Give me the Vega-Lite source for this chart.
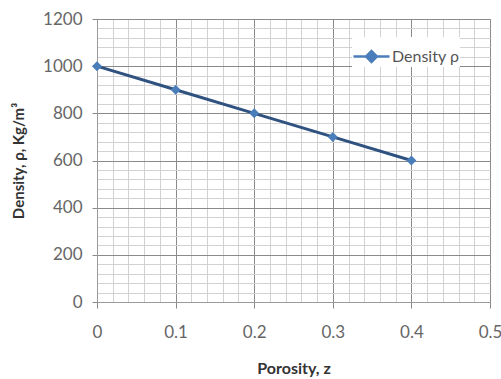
{
  "$schema": "https://vega.github.io/schema/vega-lite/v6.json",
  "width": 393,
  "height": 283,
  "autosize": {"type": "none"},
  "padding": {"left": 97, "top": 19, "right": 11, "bottom": 77},
  "background": "white",
  "config": {
    "view": {"stroke": "#9a9a9a", "strokeWidth": 1},
    "font": "Lato"
  },
  "data": {
    "values": [
      {"z": 0, "rho": 1000, "series": "Density ρ"},
      {"z": 0.1, "rho": 900, "series": "Density ρ"},
      {"z": 0.2, "rho": 800, "series": "Density ρ"},
      {"z": 0.3, "rho": 700, "series": "Density ρ"},
      {"z": 0.4, "rho": 600, "series": "Density ρ"}
    ]
  },
  "layer": [
    {
      "mark": {"type": "line", "strokeWidth": 3, "color": "#2f5280"},
      "encoding": {
        "x": {
          "field": "z", "type": "quantitative",
          "scale": {"domain": [0, 0.5], "nice": false, "zero": false},
          "axis": {
            "values": [0, 0.02, 0.04, 0.06, 0.08, 0.1, 0.12, 0.14, 0.16, 0.18, 0.2, 0.22, 0.24, 0.26, 0.28, 0.3, 0.32, 0.34, 0.36, 0.38, 0.4, 0.42, 0.44, 0.46, 0.48, 0.5],
            "tickCount": 200,
            "labelExpr": "abs(datum.value*10 - round(datum.value*10)) < 0.001 ? format(datum.value, '~g') : ''",
            "labelOverlap": false,
            "title": "Porosity, z",
            "titleFont": "Lato", "titleFontSize": 16, "titleFontWeight": "bold", "titleColor": "#333",
            "titlePadding": 20,
            "labelFont": "Lato", "labelFontSize": 17, "labelColor": "#666",
            "labelPadding": 16,
            "labelFlush": false,
            "domainColor": "#9a9a9a",
            "tickSize": 6,
            "tickColor": {"condition": {"test": "abs(datum.value*10 - round(datum.value*10)) < 0.001", "value": "#888"}, "value": "rgba(0,0,0,0)"},
            "grid": true,
            "gridColor": {"condition": {"test": "abs(datum.value*10 - round(datum.value*10)) < 0.001", "value": "#8a8a8a"}, "value": "#d2d2d2"},
            "gridWidth": 1
          }
        },
        "y": {
          "field": "rho", "type": "quantitative",
          "scale": {"domain": [0, 1200], "nice": false},
          "axis": {
            "values": [0, 40, 80, 120, 160, 200, 240, 280, 320, 360, 400, 440, 480, 520, 560, 600, 640, 680, 720, 760, 800, 840, 880, 920, 960, 1000, 1040, 1080, 1120, 1160, 1200],
            "tickCount": 200,
            "labelExpr": "datum.value % 200 === 0 ? datum.label : ''",
            "labelOverlap": false,
            "format": "d",
            "title": "Density, ρ, Kg/m³",
            "titleFont": "Lato", "titleFontSize": 15, "titleFontWeight": "bold", "titleColor": "#333",
            "titlePadding": 16,
            "labelFont": "Lato", "labelFontSize": 17, "labelColor": "#666",
            "labelPadding": 10,
            "domainColor": "#9a9a9a",
            "tickSize": 5,
            "tickColor": {"condition": {"test": "datum.value % 200 === 0", "value": "#888"}, "value": "rgba(0,0,0,0)"},
            "grid": true,
            "gridColor": {"condition": {"test": "datum.value % 200 === 0", "value": "#8a8a8a"}, "value": "#d2d2d2"},
            "gridWidth": 1
          }
        }
      }
    },
    {
      "mark": {"type": "point", "shape": "diamond", "filled": true, "size": 100, "color": "#4a7ebb", "opacity": 1},
      "encoding": {
        "x": {"field": "z", "type": "quantitative"},
        "y": {"field": "rho", "type": "quantitative"},
        "color": {
          "field": "series", "type": "nominal",
          "scale": {"range": ["#4a7ebb"]},
          "legend": {
            "title": null,
            "orient": "none",
            "legendX": 255,
            "legendY": 18,
            "symbolType": "M-1,0L-0.3,0M0.3,0L1,0M0,-0.3L0.3,0L0,0.3L-0.3,0Z",
            "symbolSize": 1300,
            "symbolStrokeWidth": 2.5,
            "symbolStrokeColor": "#4a7ebb",
            "symbolFillColor": "#4a7ebb",
            "labelFont": "Lato", "labelFontSize": 16, "labelColor": "#555",
            "labelOffset": 1,
            "fillColor": "white"
          }
        }
      }
    }
  ]
}
